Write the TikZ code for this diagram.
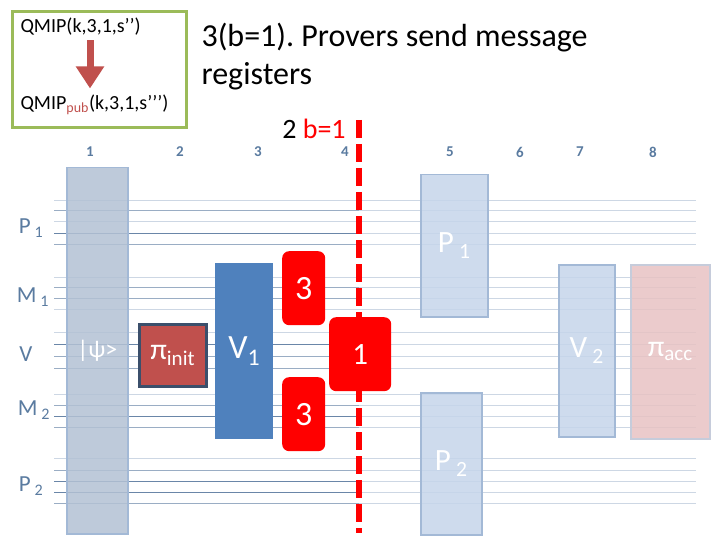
\documentclass[tikz,border=0pt]{standalone}
\usepackage{fontspec}
\setmainfont{Carlito}
\frenchspacing
\usetikzlibrary{arrows.meta}
\definecolor{wireDark}{HTML}{6A86A8}
\definecolor{wireMid}{HTML}{9AADC4}
\definecolor{wireLight}{HTML}{CDD7E4}
\definecolor{labBlue}{HTML}{5A7BA0}
\definecolor{grnBorder}{HTML}{9BBB59}
\definecolor{arrRed}{HTML}{C0504D}
\definecolor{verBlue}{HTML}{4F81BD}
\definecolor{navy}{HTML}{3B4F6B}
\definecolor{shadeBlue}{HTML}{B3C1D4}
\definecolor{paleBlue}{HTML}{C5D5EA}
\definecolor{paleEdge}{HTML}{A3B9D6}
\definecolor{palePink}{HTML}{E8C2C3}
\definecolor{pinkEdge}{HTML}{C6CCDB}
\tikzset{
  wire/.style={line width=1pt},
  rowlab/.style={text=labBlue, font=\fontsize{23}{26}\selectfont},
  colnum/.style={text=labBlue, font=\fontsize{15}{17}\selectfont\bfseries},
  shadebox/.style={draw=paleEdge, line width=1.5pt, fill=shadeBlue, fill opacity=0.85,
    text opacity=1, text=white, anchor=north west, inner sep=0pt},
  palebox/.style={draw=paleEdge, line width=1.5pt, fill=paleBlue, fill opacity=0.85,
    text opacity=1, text=white, anchor=north west, inner sep=0pt},
  redbox/.style={fill=red, rounded corners=7pt, text=white, anchor=north west, inner sep=0pt},
}
\begin{document}
\begin{tikzpicture}[x=1pt,y=-1pt]
  \useasboundingbox (0,0) rectangle (720,540);
  % reduction box
  \draw[grnBorder, line width=3pt] (12,12) rectangle (186,128);
  \node[anchor=west, font=\fontsize{20}{22}\selectfont] (qmip) at (17,27) {QMIP(k,3,1,s’’)};
  \node[anchor=west, font=\fontsize{20}{22}\selectfont] (qmippub) at (17,105)
    {QMIP\textsubscript{\textcolor{arrRed}{pub}}(k,3,1,s’’’)};
  \draw[arrRed, line width=7pt, -{Triangle[width=27pt,length=22pt]}]
    ([yshift=-1pt]qmip.south -| 90,0) -- ([yshift=3pt]qmippub.north -| 90,0);
  % title
  \node[anchor=north west, align=left, font=\fontsize{32}{38}\selectfont] (title) at (198,20)
    {3(b=1). Provers send message\\registers};
  \node[font=\fontsize{28}{30}\selectfont] (branch) at (314,129) {2 \textcolor{red}{b=1}};
  % column numbers
  \foreach \x/\n in {90/1,180/2,258/3,345/4,450/5,520/6,580/7,653/8}
    \node[colnum] (c\n) at (\x,152) {\n};
  % wires
  \foreach \y/\c in {201/wireLight,211/wireMid,222/wireLight,233/wireDark,244/wireMid,
                     277/wireLight,287/wireMid,298/wireMid,309/wireLight,
                     332/wireLight,344/wireDark,356/wireMid,368/wireMid,
                     394/wireLight,405/wireMid,416/wireDark,427/wireMid,
                     458/wireLight,470/wireMid,481/wireDark,492/wireDark,503/wireMid} {
    \draw[wire,\c] (54,\y) -- (359,\y);
    \draw[wire,wireLight] (359,\y) -- (696,\y);
  }
  % register labels
  \node[rowlab] (lp1) at (31,228) {P\,\textsubscript{1}};
  \node[rowlab] (lm1) at (33,297) {M\,\textsubscript{1}};
  \node[rowlab] (lv) at (26,354) {V};
  \node[rowlab] (lm2) at (34,410) {M\,\textsubscript{2}};
  \node[rowlab] (lp2) at (31,486) {P\,\textsubscript{2}};
  % cut
  \draw[red, line width=6pt, dash pattern=on 18pt off 6pt] (359,120) -- (359,533);
  % operations
  \node[shadebox, minimum width=61pt, minimum height=366pt, font=\fontsize{24}{26}\selectfont]
    (psi) at (66,167) {|ψ>};
  \node[fill=arrRed, draw=navy, line width=2.5pt, anchor=north west, inner sep=0pt,
    minimum width=67pt, minimum height=62pt, text=white, font=\fontsize{30}{32}\selectfont]
    (init) at (138,323) {π\textsubscript{init}};
  \node[fill=verBlue, anchor=north west, inner sep=0pt, minimum width=58pt, minimum height=176pt,
    text=white, font=\fontsize{34}{36}\selectfont] (vone) at (215,263) {V\textsubscript{1}};
  \node[redbox, minimum width=43pt, minimum height=74pt, font=\fontsize{34}{36}\selectfont]
    (mthree) at (282,251) {3};
  \node[redbox, minimum width=43pt, minimum height=74pt, font=\fontsize{34}{36}\selectfont]
    (nthree) at (282,377) {3};
  \node[redbox, minimum width=62pt, minimum height=74pt, font=\fontsize{31}{33}\selectfont]
    (bone) at (329,317) {1};
  \node[palebox, minimum width=67pt, minimum height=142pt, font=\fontsize{31}{33}\selectfont]
    (pone) at (420,174) {P\,\textsubscript{1}};
  \node[palebox, minimum width=61pt, minimum height=142pt, font=\fontsize{31}{33}\selectfont]
    (ptwo) at (420,392) {P\,\textsubscript{2}};
  \node[palebox, minimum width=56pt, minimum height=172pt, font=\fontsize{31}{33}\selectfont]
    (vtwo) at (558,264) {V\,\textsubscript{2}};
  \node[draw=pinkEdge, line width=1.5pt, fill=palePink, fill opacity=0.85, text opacity=1,
    text=white, anchor=north west, inner sep=0pt, minimum width=79pt, minimum height=174pt,
    font=\fontsize{30}{32}\selectfont] (acc) at (630,264) {π\textsubscript{acc}};
\end{tikzpicture}
\end{document}
